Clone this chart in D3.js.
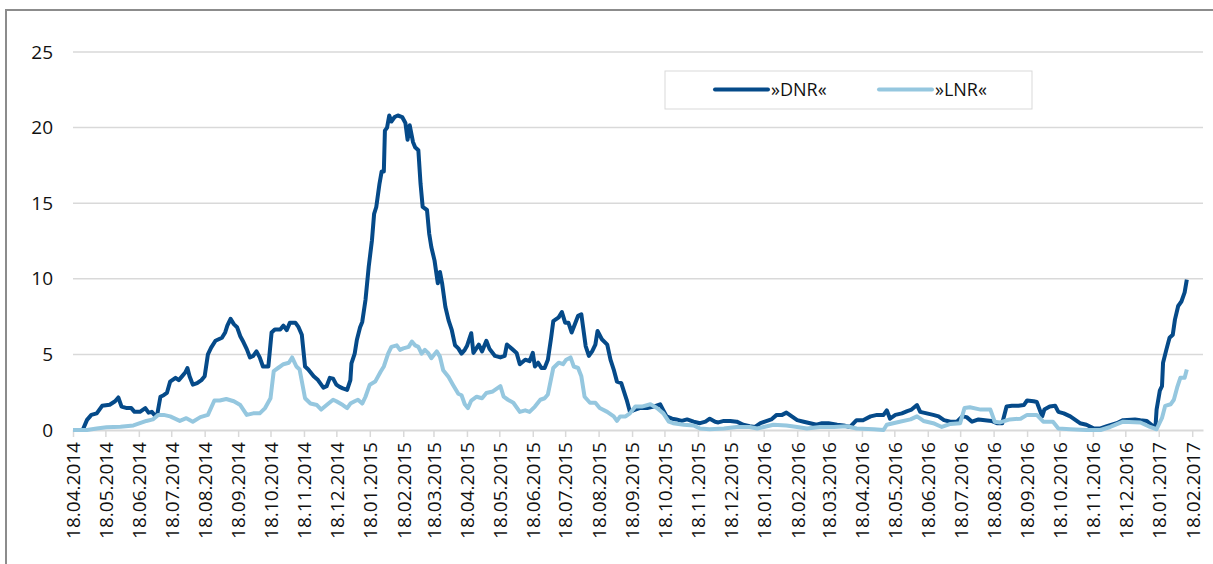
<!DOCTYPE html>
<html>
<head>
<meta charset="utf-8">
<script src="https://cdn.jsdelivr.net/npm/d3@7"></script>
<style>
  body { margin: 0; background: #fff; }
  svg { display: block; font-family: "Open Sans", sans-serif; }
</style>
</head>
<body>
<div id="chart"></div>
<script>
// month labels on the x axis
const tickLabels = ["18.04.2014","18.05.2014","18.06.2014","18.07.2014","18.08.2014","18.09.2014","18.10.2014","18.11.2014","18.12.2014",
  "18.01.2015","18.02.2015","18.03.2015","18.04.2015","18.05.2015","18.06.2015","18.07.2015","18.08.2015","18.09.2015","18.10.2015","18.11.2015","18.12.2015",
  "18.01.2016","18.02.2016","18.03.2016","18.04.2016","18.05.2016","18.06.2016","18.07.2016","18.08.2016","18.09.2016","18.10.2016","18.11.2016","18.12.2016",
  "18.01.2017","18.02.2017"]
const yTicks = [0, 5, 10, 15, 20, 25]

const dnrDates = ["2014-04-18","2014-04-27","2014-05-01","2014-05-05","2014-05-10","2014-05-15","2014-05-22","2014-05-27","2014-05-30","2014-06-02",
  "2014-06-07","2014-06-11","2014-06-14","2014-06-19","2014-06-24","2014-06-27","2014-06-30","2014-07-03","2014-07-05","2014-07-08",
  "2014-07-11","2014-07-14","2014-07-17","2014-07-22","2014-07-25","2014-07-28","2014-07-31","2014-08-02","2014-08-04","2014-08-07",
  "2014-08-11","2014-08-15","2014-08-18","2014-08-21","2014-08-24","2014-08-28","2014-08-31","2014-09-03","2014-09-06","2014-09-08",
  "2014-09-11","2014-09-14","2014-09-17","2014-09-20","2014-09-23","2014-09-26","2014-09-29","2014-10-02","2014-10-05","2014-10-08",
  "2014-10-11","2014-10-16","2014-10-19","2014-10-22","2014-10-27","2014-10-30","2014-11-02","2014-11-05","2014-11-10","2014-11-13",
  "2014-11-16","2014-11-19","2014-11-22","2014-11-27","2014-12-01","2014-12-06","2014-12-09","2014-12-12","2014-12-15","2014-12-18",
  "2014-12-21","2014-12-24","2014-12-28","2014-12-31","2015-01-01","2015-01-04","2015-01-06","2015-01-09","2015-01-11","2015-01-14",
  "2015-01-17","2015-01-20","2015-01-22","2015-01-24","2015-01-27","2015-01-29","2015-01-31","2015-02-01","2015-02-03","2015-02-05",
  "2015-02-07","2015-02-10","2015-02-13","2015-02-17","2015-02-20","2015-02-22","2015-02-24","2015-02-27","2015-03-01","2015-03-04",
  "2015-03-06","2015-03-08","2015-03-12","2015-03-14","2015-03-16","2015-03-19","2015-03-22","2015-03-24","2015-03-26","2015-03-29",
  "2015-04-01","2015-04-04","2015-04-07","2015-04-10","2015-04-13","2015-04-16","2015-04-18","2015-04-22","2015-04-24","2015-04-29",
  "2015-05-02","2015-05-06","2015-05-09","2015-05-14","2015-05-19","2015-05-23","2015-05-25","2015-05-30","2015-06-03","2015-06-06",
  "2015-06-11","2015-06-15","2015-06-18","2015-06-20","2015-06-23","2015-06-26","2015-06-29","2015-07-02","2015-07-05","2015-07-07",
  "2015-07-12","2015-07-15","2015-07-18","2015-07-21","2015-07-24","2015-07-27","2015-07-30","2015-08-02","2015-08-06","2015-08-09",
  "2015-08-12","2015-08-15","2015-08-17","2015-08-21","2015-08-26","2015-08-29","2015-09-01","2015-09-04","2015-09-08","2015-09-10",
  "2015-09-13","2015-09-16","2015-09-19","2015-09-25","2015-10-02","2015-10-08","2015-10-14","2015-10-17","2015-10-20","2015-10-25",
  "2015-10-29","2015-11-03","2015-11-08","2015-11-14","2015-11-20","2015-11-25","2015-11-29","2015-12-04","2015-12-07","2015-12-12",
  "2015-12-18","2015-12-24","2015-12-30","2016-01-05","2016-01-10","2016-01-15","2016-01-19","2016-01-25","2016-01-30","2016-02-04",
  "2016-02-08","2016-02-13","2016-02-18","2016-02-24","2016-03-01","2016-03-07","2016-03-12","2016-03-18","2016-03-26","2016-04-01",
  "2016-04-07","2016-04-13","2016-04-19","2016-04-26","2016-05-02","2016-05-08","2016-05-11","2016-05-14","2016-05-19","2016-05-25",
  "2016-05-30","2016-06-03","2016-06-08","2016-06-11","2016-06-17","2016-06-23","2016-06-28","2016-07-03","2016-07-09","2016-07-15",
  "2016-07-20","2016-07-24","2016-07-29","2016-08-04","2016-08-10","2016-08-16","2016-08-21","2016-08-26","2016-08-30","2016-09-04",
  "2016-09-10","2016-09-15","2016-09-18","2016-09-24","2016-09-27","2016-10-02","2016-10-04","2016-10-09","2016-10-14","2016-10-17",
  "2016-10-22","2016-10-28","2016-11-02","2016-11-06","2016-11-12","2016-11-19","2016-11-25","2016-12-01","2016-12-10","2016-12-16",
  "2016-12-27","2017-01-01","2017-01-07","2017-01-12","2017-01-15","2017-01-16","2017-01-19","2017-01-21","2017-01-22","2017-01-25",
  "2017-01-28","2017-01-31","2017-02-02","2017-02-05","2017-02-08","2017-02-11","2017-02-13"]
const dnrValues = [0,0,0.67,1.0,1.1,1.6,1.67,1.9,2.15,1.55,
  1.45,1.45,1.2,1.2,1.45,1.15,1.2,0.95,1.0,2.2,
  2.3,2.45,3.2,3.45,3.3,3.55,3.8,4.1,3.55,3.0,
  3.1,3.3,3.55,5.0,5.45,5.9,6.0,6.1,6.45,6.9,
  7.35,7.0,6.8,6.2,5.8,5.35,4.8,4.9,5.2,4.8,
  4.2,4.2,6.45,6.65,6.65,6.9,6.6,7.1,7.1,6.8,
  6.3,4.2,4.0,3.55,3.3,2.8,2.9,3.45,3.4,3.0,
  2.85,2.75,2.65,3.3,4.4,5.05,5.95,6.8,7.15,8.6,
  10.8,12.55,14.3,14.75,16.3,17.1,17.1,19.8,20.0,20.8,
  20.4,20.7,20.8,20.7,20.3,19.2,20.15,19.05,18.7,18.5,
  16.3,14.75,14.55,13.0,12.1,11.2,9.7,10.45,9.7,8.15,
  7.25,6.6,5.6,5.4,5.05,5.3,5.55,6.4,5.1,5.65,
  5.2,5.9,5.35,4.9,4.8,4.9,5.65,5.35,5.1,4.35,
  4.65,4.55,5.1,4.2,4.45,4.1,4.1,4.65,6.1,7.2,
  7.45,7.8,7.1,7.1,6.45,7.0,7.55,7.65,5.55,4.9,
  5.2,5.65,6.55,6.0,5.65,4.65,4.0,3.2,3.1,2.65,
  2.0,1.2,1.3,1.45,1.45,1.55,1.7,1.3,0.9,0.75,
  0.7,0.6,0.7,0.55,0.45,0.55,0.75,0.55,0.5,0.6,
  0.6,0.55,0.35,0.25,0.2,0.45,0.55,0.7,1.0,1.0,
  1.15,0.9,0.65,0.55,0.45,0.35,0.45,0.45,0.35,0.3,
  0.2,0.65,0.65,0.9,1.0,1.0,1.3,0.75,1.0,1.1,
  1.25,1.35,1.65,1.2,1.1,1.0,0.9,0.65,0.55,0.55,
  0.9,0.85,0.55,0.7,0.65,0.6,0.45,0.45,1.55,1.6,
  1.6,1.65,1.95,1.9,1.85,0.9,1.35,1.55,1.6,1.2,
  1.1,0.9,0.65,0.45,0.35,0.1,0.1,0.25,0.45,0.65,
  0.7,0.65,0.6,0.3,0.25,1.35,2.6,2.9,4.45,5.3,
  6.1,6.3,7.3,8.2,8.5,9.1,9.95]

const lnrDates = ["2014-04-18","2014-05-01","2014-05-10","2014-05-19","2014-06-01","2014-06-13","2014-06-19","2014-06-25","2014-07-01","2014-07-06",
  "2014-07-11","2014-07-17","2014-07-26","2014-08-01","2014-08-07","2014-08-14","2014-08-21","2014-08-27","2014-09-01","2014-09-07",
  "2014-09-14","2014-09-20","2014-09-26","2014-10-02","2014-10-08","2014-10-13","2014-10-18","2014-10-21","2014-10-25","2014-10-30",
  "2014-11-04","2014-11-07","2014-11-11","2014-11-14","2014-11-19","2014-11-24","2014-11-30","2014-12-04","2014-12-09","2014-12-15",
  "2014-12-18","2014-12-24","2014-12-28","2014-12-31","2015-01-04","2015-01-07","2015-01-11","2015-01-14","2015-01-18","2015-01-23",
  "2015-01-28","2015-01-31","2015-02-04","2015-02-07","2015-02-12","2015-02-15","2015-02-18","2015-02-23","2015-02-26","2015-03-01",
  "2015-03-04","2015-03-07","2015-03-10","2015-03-13","2015-03-16","2015-03-21","2015-03-24","2015-03-27","2015-04-01","2015-04-05",
  "2015-04-10","2015-04-13","2015-04-16","2015-04-19","2015-04-22","2015-04-27","2015-05-02","2015-05-06","2015-05-12","2015-05-19",
  "2015-05-22","2015-05-26","2015-05-31","2015-06-06","2015-06-11","2015-06-15","2015-06-20","2015-06-25","2015-06-29","2015-07-02",
  "2015-07-07","2015-07-12","2015-07-16","2015-07-19","2015-07-23","2015-07-26","2015-07-30","2015-08-02","2015-08-05","2015-08-10",
  "2015-08-15","2015-08-19","2015-08-26","2015-09-01","2015-09-04","2015-09-07","2015-09-12","2015-09-16","2015-09-21","2015-09-27",
  "2015-10-05","2015-10-11","2015-10-17","2015-10-22","2015-10-26","2015-11-05","2015-11-14","2015-11-20","2015-11-29","2015-12-12",
  "2015-12-24","2016-01-05","2016-01-12","2016-01-18","2016-01-27","2016-02-08","2016-02-18","2016-02-27","2016-03-10","2016-03-23",
  "2016-04-04","2016-04-13","2016-04-29","2016-05-08","2016-05-11","2016-05-23","2016-06-02","2016-06-08","2016-06-14","2016-06-23",
  "2016-07-01","2016-07-09","2016-07-18","2016-07-22","2016-07-27","2016-08-06","2016-08-15","2016-08-19","2016-08-24","2016-09-02",
  "2016-09-12","2016-09-18","2016-09-27","2016-10-03","2016-10-12","2016-10-17","2016-10-28","2016-11-12","2016-11-25","2016-12-04",
  "2016-12-16","2017-01-01","2017-01-10","2017-01-16","2017-01-21","2017-01-24","2017-01-29","2017-02-01","2017-02-04","2017-02-07",
  "2017-02-11","2017-02-13"]
const lnrValues = [0,0,0.1,0.18,0.22,0.3,0.45,0.6,0.7,1.0,
  1.0,0.9,0.6,0.78,0.55,0.85,1.0,1.95,1.95,2.05,
  1.9,1.65,1.0,1.1,1.1,1.45,2.1,3.9,4.1,4.35,
  4.45,4.8,4.2,4.0,2.1,1.75,1.65,1.35,1.65,2.0,
  1.9,1.65,1.45,1.75,1.9,2.0,1.75,2.2,3.0,3.2,
  3.85,4.2,5.05,5.5,5.6,5.3,5.4,5.5,5.85,5.6,
  5.5,5.05,5.3,5.1,4.75,5.2,4.85,3.95,3.5,3.0,
  2.4,2.3,1.7,1.45,1.95,2.2,2.1,2.45,2.55,2.9,
  2.2,2.0,1.8,1.2,1.3,1.2,1.55,2.0,2.1,2.35,
  4.1,4.45,4.35,4.65,4.8,4.2,4.1,3.55,2.2,1.8,
  1.8,1.45,1.2,0.9,0.6,0.9,0.9,1.1,1.55,1.55,
  1.7,1.45,1.1,0.55,0.45,0.35,0.3,0.1,0.05,0.1,
  0.2,0.2,0.1,0.2,0.35,0.3,0.2,0.1,0.2,0.2,
  0.25,0.1,0.05,0,0.35,0.55,0.7,0.9,0.6,0.45,
  0.2,0.4,0.45,1.45,1.5,1.35,1.35,0.55,0.5,0.7,
  0.75,1.0,1.0,0.55,0.55,0.1,0.05,0,0,0.2,
  0.55,0.5,0.2,0.05,0.8,1.6,1.7,2.0,2.8,3.45,
  3.45,4.0]

const W = 1213, H = 564
const parseIso = d3.utcParse("%Y-%m-%d")
const parseLabel = d3.utcParse("%d.%m.%Y")

const dnr = dnrDates.map((d, i) => ({date: parseIso(d), value: dnrValues[i]}))
const lnr = lnrDates.map((d, i) => ({date: parseIso(d), value: lnrValues[i]}))

const x = d3.scaleUtc()
  .domain([parseIso("2014-04-18"), parseIso("2017-02-28")])
  .range([73, 1203])
const y = d3.scaleLinear().domain([0, 25]).range([430, 52])

const svg = d3.select("#chart").append("svg")
  .attr("width", W)
  .attr("height", H)

// outer frame
svg.append("rect")
  .attr("x", 6).attr("y", 10)
  .attr("width", W + 10).attr("height", H + 10)
  .attr("fill", "none")
  .attr("stroke", "#8c8c8c")
  .attr("stroke-width", 2)

// gridlines
svg.append("g")
  .selectAll("line")
  .data(yTicks.filter(t => t > 0))
  .join("line")
  .attr("x1", 73).attr("x2", 1203)
  .attr("y1", d => y(d)).attr("y2", d => y(d))
  .attr("stroke", "#d9d9d9")
  .attr("stroke-width", 1.5)

// y labels
svg.append("g")
  .selectAll("text")
  .data(yTicks)
  .join("text")
  .attr("x", 53)
  .attr("y", d => y(d))
  .attr("dy", "0.35em")
  .attr("text-anchor", "end")
  .attr("font-size", 19)
  .attr("fill", "#111")
  .text(d => d)

// x axis
const xAxis = d3.axisBottom(x)
  .tickValues(tickLabels.map(parseLabel))
  .tickSize(7)
  .tickSizeOuter(0)
  .tickFormat(d3.utcFormat("%d.%m.%Y"))

const gx = svg.append("g")
  .attr("transform", "translate(0,430)")
  .call(xAxis)
gx.select(".domain").attr("stroke", "#d9d9d9").attr("stroke-width", 2)
gx.selectAll(".tick line").attr("stroke", "#d9d9d9").attr("stroke-width", 1.5)
gx.selectAll(".tick text")
  .attr("font-family", "'Open Sans', sans-serif")
  .attr("font-size", 19)
  .attr("fill", "#111")
  .attr("text-anchor", "end")
  .attr("transform", "rotate(-90)")
  .attr("x", -12)
  .attr("y", 0)
  .attr("dy", "0.36em")

// lines
const line = d3.line()
  .x(d => x(d.date))
  .y(d => y(d.value))

svg.append("path")
  .datum(dnr)
  .attr("d", line)
  .attr("fill", "none")
  .attr("stroke", "#054a89")
  .attr("stroke-width", 4)
  .attr("stroke-linejoin", "round")

svg.append("path")
  .datum(lnr)
  .attr("d", line)
  .attr("fill", "none")
  .attr("stroke", "#95c7df")
  .attr("stroke-width", 4)
  .attr("stroke-linejoin", "round")

// legend
const legend = svg.append("g")
legend.append("rect")
  .attr("x", 665).attr("y", 71)
  .attr("width", 367).attr("height", 38)
  .attr("fill", "#fff")
  .attr("stroke", "#d9d9d9")
  .attr("stroke-width", 1)

const legendItems = [
  {name: "»DNR«", color: "#054a89", x: 715},
  {name: "»LNR«", color: "#95c7df", x: 879}
]
legendItems.forEach(item => {
  legend.append("line")
    .attr("x1", item.x).attr("x2", item.x + 53)
    .attr("y1", 89.5).attr("y2", 89.5)
    .attr("stroke", item.color)
    .attr("stroke-width", 4)
    .attr("stroke-linecap", "round")
  legend.append("text")
    .attr("x", item.x + 56)
    .attr("y", 90)
    .attr("dy", "0.35em")
    .attr("font-size", 18)
    .attr("fill", "#111")
    .text(item.name)
})
</script>
</body>
</html>
